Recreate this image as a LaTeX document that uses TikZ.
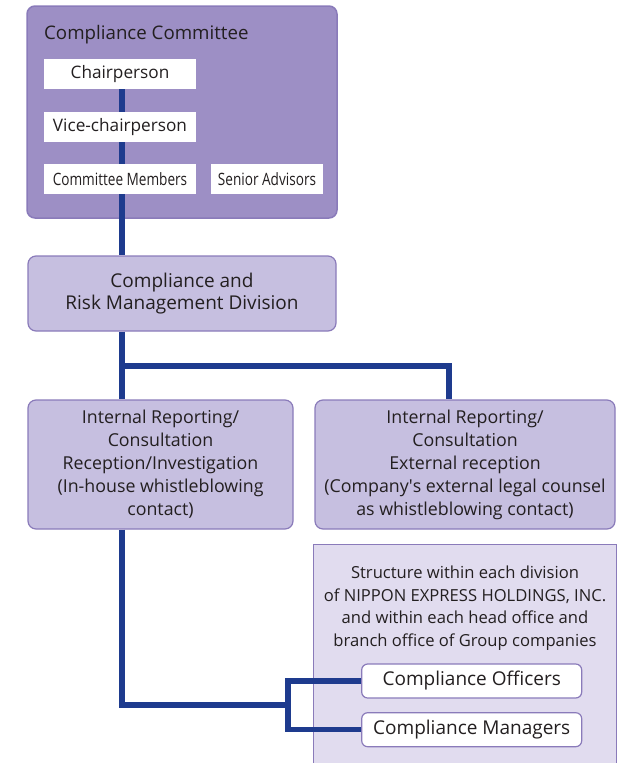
\documentclass[tikz,border=0pt]{standalone}
\usepackage{fontspec}
\setmainfont{Open Sans}
\newfontfamily\narrowfont[FakeStretch=0.8]{Open Sans}
\usetikzlibrary{calc}
\definecolor{cc}{RGB}{157,143,197}
\definecolor{dc}{RGB}{198,191,224}
\definecolor{sc}{RGB}{225,220,239}
\definecolor{bc}{RGB}{138,123,186}
\definecolor{wc}{RGB}{30,59,142}
\definecolor{tc}{RGB}{35,31,32}
\tikzset{grp/.style={draw=bc,line width=1.5pt,fill=cc,rounded corners=8pt,minimum width=310,minimum height=212},
 wbox/.style={fill=white,text=tc,minimum width=152,minimum height=30,inner sep=0pt,font=\fontsize{17.2}{19}\selectfont},
 dbox/.style={draw=bc,line width=1.2pt,fill=dc,rounded corners=8pt,text=tc,align=center,inner sep=0pt,font=\fontsize{17.8}{23}\selectfont},
 rbox/.style={draw=bc,line width=1.2pt,fill=white,rounded corners=6pt,text=tc,minimum width=220,minimum height=34,inner sep=0pt,font=\fontsize{19}{21}\selectfont},
 wire/.style={draw=wc,line width=5.2pt},
 every node/.style={text=tc}}

\begin{document}
\begin{tikzpicture}[x=1pt,y=-1pt]
\useasboundingbox (0,0) rectangle (619,763);
% committee
\node[grp] (comm) at (182,112) {};
\node[anchor=west,inner sep=0pt,font=\fontsize{18.7}{22}\selectfont] (title) at (44,35) {Compliance Committee};
\node[wbox] (chair) at (120,74) {Chairperson};
\node[wbox] (vice) at (120,127) {Vice-chairperson};
\node[wbox,font=\narrowfont\fontsize{17}{19}\selectfont] (memb) at (120,179) {Committee Members};
\node[wbox,minimum width=112,font=\narrowfont\fontsize{17}{19}\selectfont] (advis) at (267,179) {Senior Advisors};
% division and contacts
\node[dbox,minimum width=308,minimum height=75,font=\fontsize{19}{22.5}\selectfont] (div) at (182,293.5) {Compliance and\\Risk Management Division};
\node[dbox,minimum width=265,minimum height=129] (inh) at (160.5,464.5) {Internal Reporting/\\Consultation\\Reception/Investigation\\(In-house whistleblowing\\contact)};
\node[dbox,minimum width=300,minimum height=129] (ext) at (465,464.5) {Internal Reporting/\\Consultation\\External reception\\(Company\textquotesingle s external legal counsel\\as whistleblowing contact)};
% group structure
\node[fill=sc,minimum width=302,minimum height=218,inner sep=0pt] (grpbox) at (465,654) {};
\draw[bc,line width=1.2pt] (grpbox.south west) -- (grpbox.north west) -- (grpbox.north east) -- (grpbox.south east);
\node[align=center,font=\fontsize{16.6}{22.6}\selectfont] (gtxt) at (465,608) {Structure within each division\\of NIPPON EXPRESS HOLDINGS, INC.\\and within each head office and\\branch office of Group companies};
\node[rbox] (offi) at (471.7,681) {Compliance Officers};
\node[rbox] (mana) at (471.7,729.7) {Compliance Managers};
% wires
\coordinate (fork) at (122,366);
\coordinate (split) at (288,705);
\draw[wire] ([xshift=2]chair.south) -- ([xshift=2]vice.north);
\draw[wire] ([xshift=2]vice.south) -- ([xshift=2]memb.north);
\draw[wire] ([xshift=2]memb.south) -- ([xshift=2]memb.south |- div.north);
\draw[wire] (fork |- div.south) -- (fork |- inh.north);
\draw[wire] (fork) -| ([xshift=-16]ext.north);
\draw[wire] (fork |- inh.south) |- (split);
\draw[wire] (offi.west) -| (split) |- (mana.west);
\end{tikzpicture}
\end{document}
